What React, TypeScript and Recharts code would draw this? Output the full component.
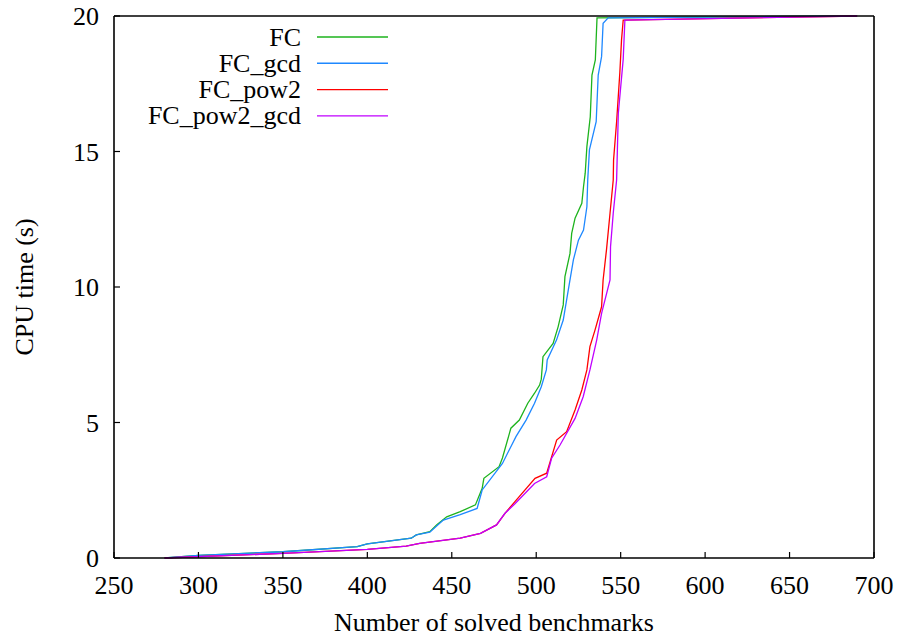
import { LineChart, Line, XAxis, YAxis } from "recharts";

// cactus plot: [number of solved benchmarks, CPU time]
const fc = [
  [280, 0], [300, 0.1], [350, 0.23], [394, 0.42], [400, 0.52], [426, 0.73], [429, 0.85],
  [437, 0.97], [441, 1.22], [447, 1.52], [455, 1.71], [464, 1.96], [468, 2.57], [469, 2.94],
  [478, 3.37], [480, 3.69], [485, 4.79], [490, 5.09], [495, 5.71], [499, 6.08], [502, 6.38],
  [503, 6.6], [504, 7.43], [510, 7.92], [513, 8.54], [516, 9.34], [517, 10.38], [520, 11.24],
  [521, 11.98], [523, 12.54], [527, 13.09], [528, 13.7], [529, 14.2], [530, 15.18],
  [532, 16.28], [533, 17.82], [535, 18.38], [536, 19.93], [690, 20],
];

const fcGcd = [
  [280, 0], [300, 0.1], [350, 0.23], [394, 0.42], [400, 0.52], [426, 0.73], [429, 0.85],
  [437, 0.95], [445, 1.4], [455, 1.6], [465, 1.83], [468, 2.51], [480, 3.49], [488, 4.48],
  [494, 5.09], [499, 5.71], [503, 6.32], [506, 6.94], [506.5, 7.31], [512, 8.04], [516, 8.78],
  [519, 9.89], [522, 11.0], [525, 11.73], [528, 12.1], [530, 12.96], [530.5, 13.95],
  [531.5, 15.06], [535.5, 16.1], [536.7, 17.82], [538.7, 18.5], [539.6, 19.73],
  [542.6, 19.93], [690, 20],
];

const fcPow2 = [
  [280, 0], [350, 0.17], [400, 0.32], [423, 0.44], [431, 0.54], [455, 0.73], [467, 0.91],
  [476.5, 1.22], [481.5, 1.65], [487.4, 2.08], [499.3, 2.94], [506.2, 3.13], [512.1, 4.35],
  [518, 4.66], [523, 5.46], [527, 6.2], [530, 6.94], [531.8, 7.8], [534.8, 8.41],
  [538.7, 9.27], [539.6, 10.26], [541.6, 11.37], [543.7, 12.72], [545.6, 13.95],
  [545.8, 14.69], [547.6, 16.1], [549.5, 17.9], [550.5, 19.11], [551.5, 19.85], [690, 20],
];

const fcPow2Gcd = [
  [280, 0], [350, 0.17], [400, 0.32], [423, 0.44], [431, 0.54], [455, 0.73], [467, 0.91],
  [476.5, 1.22], [481.5, 1.65], [487.4, 2.0], [499, 2.75], [506.2, 3.0], [509.1, 3.68],
  [514.1, 4.17], [523, 5.15], [527.8, 5.95], [531.8, 6.94], [535.8, 8.04], [538.7, 9.03],
  [543.7, 10.26], [544, 11.49], [545.6, 12.72], [547.6, 13.95], [548.6, 16.4],
  [551.5, 18.4], [552.5, 19.85], [690, 20],
];

const xTicks = [250, 300, 350, 400, 450, 500, 550, 600, 650, 700];
const yTicks = [0, 5, 10, 15, 20];

const series = [
  { name: "FC", points: fc, color: "#1db31d" },
  { name: "FC_gcd", points: fcGcd, color: "#1e88ff" },
  { name: "FC_pow2", points: fcPow2, color: "#ff0000" },
  { name: "FC_pow2_gcd", points: fcPow2Gcd, color: "#c000ff" },
];

const FONT = '"Liberation Serif", "Times New Roman", serif';
const tickStyle = { fontSize: 26, fill: "#000", fontFamily: FONT };

const toRows = (pts: number[][]) => pts.map(([x, y]) => ({ x, y }));

const LegendBox = () => (
  <svg width={900} height={140} style={{ position: "absolute", left: 0, top: 0, pointerEvents: "none" }}>
    {series.map((s, i) => {
      const y = 37 + i * 26.3;
      return (
        <g key={s.name}>
          <text x={301} y={y} textAnchor="end" dominantBaseline="central" fontSize={26} fontFamily={FONT} fill="#000">
            {s.name}
          </text>
          <line x1={317} x2={388} y1={y} y2={y} stroke={s.color} strokeWidth={1.4} />
        </g>
      );
    })}
  </svg>
);

const YLabel = ({ viewBox }: any) => {
  const cy = viewBox.y + viewBox.height / 2;
  return (
    <text x={24} y={cy} transform={`rotate(-90 24 ${cy})`} textAnchor="middle" dominantBaseline="central" fontSize={26} fontFamily={FONT} fill="#000">
      CPU time (s)
    </text>
  );
};

const XLabel = ({ viewBox }: any) => (
  <text x={viewBox.x + viewBox.width / 2} y={631} textAnchor="middle" fontSize={26} fontFamily={FONT} fill="#000">
    Number of solved benchmarks
  </text>
);

export default function App() {
  const axisLine = { stroke: "#000", strokeWidth: 1.6 };
  const tickLine = { stroke: "#000", strokeWidth: 1.2 };
  return (
    <div style={{ position: "absolute", left: 0, top: 0, width: 900, height: 637, background: "#fff" }}>
      <LineChart width={900} height={637} margin={{ top: 0, right: 0, bottom: 0, left: 0 }}>
        <XAxis
          dataKey="x"
          type="number"
          domain={[250, 700]}
          ticks={xTicks}
          allowDataOverflow
          height={79}
          tickSize={-6}
          tickMargin={24}
          tick={tickStyle}
          axisLine={axisLine}
          tickLine={tickLine}
          label={<XLabel />}
        />
        <XAxis
          xAxisId="top"
          orientation="top"
          dataKey="x"
          type="number"
          domain={[250, 700]}
          ticks={xTicks}
          height={16}
          tickSize={-6}
          tick={false}
          axisLine={axisLine}
          tickLine={tickLine}
        />
        <YAxis
          type="number"
          domain={[0, 20]}
          ticks={yTicks}
          width={114}
          tickSize={-6}
          tickMargin={21}
          tick={tickStyle}
          axisLine={axisLine}
          tickLine={tickLine}
          label={<YLabel />}
        />
        <YAxis
          yAxisId="right"
          orientation="right"
          type="number"
          domain={[0, 20]}
          ticks={yTicks}
          width={26}
          tickSize={-6}
          tick={false}
          axisLine={axisLine}
          tickLine={tickLine}
        />
        {series.map((s) => (
          <Line
            key={s.name}
            name={s.name}
            data={toRows(s.points)}
            dataKey="y"
            type="linear"
            stroke={s.color}
            strokeWidth={1.3}
            dot={false}
            isAnimationActive={false}
          />
        ))}
      </LineChart>
      <LegendBox />
    </div>
  );
}
